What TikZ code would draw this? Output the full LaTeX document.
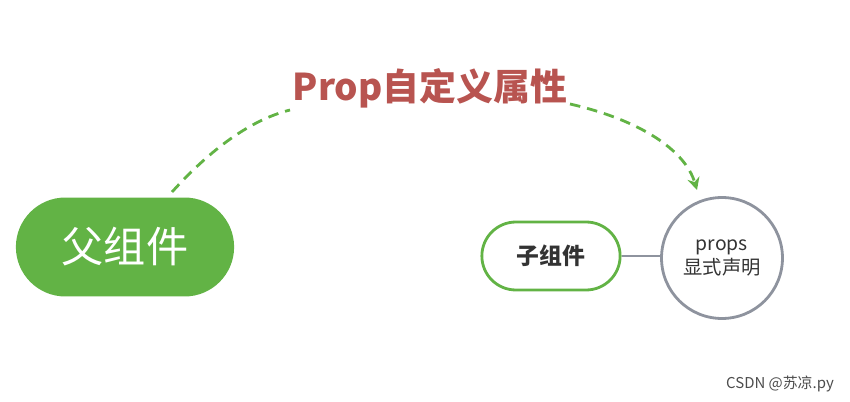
\documentclass[tikz,border=0pt]{standalone}
\usepackage{fontspec}
\setmainfont{Noto Sans CJK SC}
\usetikzlibrary{arrows.meta,positioning,shapes.misc}
\definecolor{pgreen}{HTML}{62B345}
\definecolor{ptitle}{HTML}{B85450}
\definecolor{pgray}{HTML}{8E939E}
\tikzset{
    parent box/.style={rounded rectangle,fill=pgreen,minimum width=4.6cm,minimum height=1.98cm,text width=2.9cm,align=center,text=white,font=\fontsize{24}{28}\selectfont},
    child box/.style={rounded rectangle,draw=pgreen,line width=1.6pt,minimum width=3.0cm,minimum height=1.36cm,text width=1.7cm,align=center,font=\bfseries\fontsize{13}{15}\selectfont,text=black!80},
    props circle/.style={circle,draw=pgray,line width=1.6pt,minimum size=2.42cm,align=center,font=\fontsize{11}{14}\selectfont,text=black!80},
    prop arr/.style={-{Stealth[length=7pt,width=7pt]},dash pattern=on 6pt off 4pt,draw=pgreen,line width=1.6pt},
}
\begin{document}
\begin{tikzpicture}[x=0.02cm,y=-0.02cm]
    \useasboundingbox (0,0) rectangle (850,402);
    \node[parent box] (parent) at (125,247) {父组件};
    \node[child box] (child) at (551,256) {子组件};
    \node[props circle] (props) at (722,258) {props\\显式声明};
    \node[text=ptitle,font=\bfseries\fontsize{21}{25}\selectfont] (title) at (430,88) {Prop自定义属性};
    \draw[pgray,line width=1.6pt] (child.east) -- (child.east -| props.west);
    \coordinate (start) at (172,192);
    \coordinate (end) at (697,190);
    \draw[prop arr,-] (start) .. controls (210,150) and (250,120) .. (290,110);
    \draw[prop arr] (570,104) .. controls (640,120) and (685,150) .. (end);
    \node[text=black!70,font=\fontsize{8.5}{10}\selectfont,anchor=east] (mark) at (840,384) {CSDN @苏凉.py};
\end{tikzpicture}
\end{document}
